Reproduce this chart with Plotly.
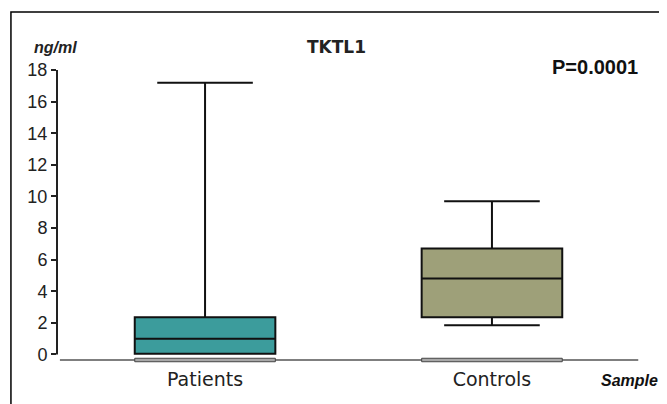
import plotly.graph_objects as go

# ---- data ----
categories = ["Patients", "Controls"]
q1_vals = [0.05, 2.35]
median_vals = [1.0, 4.8]
q3_vals = [2.35, 6.7]
lower_vals = [0.05, 1.85]
upper_vals = [17.2, 9.7]
box_colors = ["#3c9c9c", "#9ea079"]
y_ticks = [0, 2, 4, 6, 8, 10, 12, 14, 16, 18]
title_text = "TKTL1"
p_text = "P=0.0001"
y_unit = "ng/ml"
x_name = "Sample"

BOX_W = 0.49

fig = go.Figure()
for i, cat in enumerate(categories):
    fig.add_trace(go.Box(
        x=[cat], q1=[q1_vals[i]], median=[median_vals[i]], q3=[q3_vals[i]],
        lowerfence=[lower_vals[i]], upperfence=[upper_vals[i]],
        fillcolor=box_colors[i], line=dict(color="#111111", width=2),
        whiskerwidth=0.68, width=BOX_W, boxpoints=False, showlegend=False,
        hoverinfo="skip",
    ))
    # grey capsule under each box on the baseline
    fig.add_shape(type="rect", xref="x", yref="paper",
                  x0=i - BOX_W / 2, x1=i + BOX_W / 2, y0=-0.006, y1=0.006,
                  fillcolor="#a8a8a8", line=dict(color="#444444", width=1))

# y axis line from 0 to 18
fig.add_shape(type="line", xref="paper", yref="y", x0=0, x1=0,
              y0=y_ticks[0], y1=y_ticks[-1], line=dict(color="#222222", width=2))
# x baseline
fig.add_shape(type="line", xref="paper", yref="paper", x0=0.005, x1=0.997,
              y0=0, y1=0, line=dict(color="#555555", width=1.5), layer="below")
# outer border
fig.add_shape(type="rect", xref="paper", yref="paper", x0=-0.079, x1=1.1,
              y0=-0.3, y1=1.2, line=dict(color="black", width=1.5))

fig.add_annotation(text="<b>" + title_text + "</b>", xref="paper", yref="paper",
                   x=0.48, y=1.079, yanchor="middle", showarrow=False,
                   font=dict(family="DejaVu Sans", size=17, color="#222222"))
fig.add_annotation(text="<b>" + p_text + "</b>", xref="paper", yref="paper",
                   x=1.0, xanchor="right", y=1.01, yanchor="middle", showarrow=False,
                   font=dict(family="Liberation Sans, Arial", size=20, color="#111111"))
fig.add_annotation(text="<b><i>" + y_unit + "</i></b>", xref="paper", yref="paper",
                   x=-0.003, xanchor="center", y=1.076, yanchor="middle", showarrow=False,
                   font=dict(family="Liberation Sans, Arial", size=16, color="#222222"))
fig.add_annotation(text="<b><i>" + x_name + "</i></b>", xref="paper", yref="paper",
                   x=1.034, xanchor="right", y=-0.072, yanchor="middle", showarrow=False,
                   font=dict(family="Liberation Sans, Arial", size=16, color="#111111"))

# page body has an 8px margin, so the figure is laid out 8px up/left
fig.update_layout(
    width=659, height=396,
    margin=dict(l=49, r=27, t=62, b=44),
    paper_bgcolor="white", plot_bgcolor="white",
    xaxis=dict(range=[-0.516, 1.516], showline=False, showgrid=False,
               zeroline=False, ticks="", automargin=False,
               tickfont=dict(family="DejaVu Sans", size=19, color="#222222"),
               ticklabelstandoff=6),
    yaxis=dict(range=[-0.35, 18.0], tickvals=y_ticks, showline=False,
               showgrid=False, zeroline=False, ticks="outside", ticklen=5,
               tickcolor="#222222", tickwidth=1.5, automargin=False,
               tickfont=dict(family="Liberation Sans, Arial", size=18,
                             color="#222222")),
)

fig.write_html("out.html")
